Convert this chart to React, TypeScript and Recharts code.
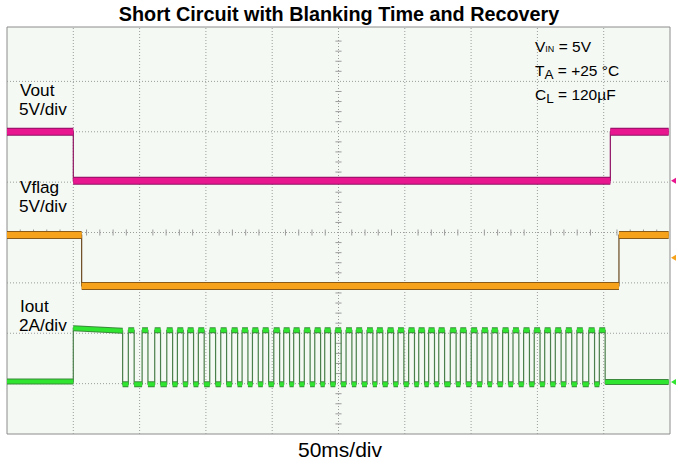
import React from 'react';
import { LineChart, Line, XAxis, YAxis, ReferenceLine, ReferenceArea, ReferenceDot } from 'recharts';

// time axis in ms (50 ms/div), vertical axis in screen divisions
const X_TICKS = [0, 50, 100, 150, 200, 250, 300, 350, 400, 450, 500];
const Y_TICKS = [0, 1, 2, 3, 4, 5, 6, 7, 8];

type Seg = [number, number, number, number]; // [t start, t end, level start, level end]

// Vout (magenta) in divisions
const voutSegs: Seg[] = [
  [0, 50, 6.0, 6.0],
  [50, 455, 5.03, 5.03],
  [455, 499, 6.0, 6.0],
];

// Vflag (orange)
const vflagSegs: Seg[] = [
  [0, 56.3, 3.95, 3.95],
  [56.3, 461.5, 2.94, 2.94],
  [461.5, 499, 3.95, 3.95],
];

// Iout (green): before short, blanking plateau, then hiccup pulses
const ioutLeadSegs: Seg[] = [
  [0, 50, 1.04, 1.04],
  [50, 87.2, 2.1, 2.05],
];
const ioutPulseCenters = [
  93.7, 104.1, 113.6, 122.7, 130.7, 138.5, 146.5, 155.1, 163.4, 171.7,
  179.5, 187.3, 195.1, 203.4, 210.9, 218.4, 226.4, 234.3, 241.8, 249.8,
  257.9, 265.6, 273.7, 281.2, 289.3, 297.1, 305.1, 312.7, 320.2, 327.8,
  336.5, 344.1, 352.3, 360.4, 367.9, 376.0, 383.8, 391.8, 399.8, 407.7,
  415.7, 423.7, 432.0, 440.9, 448.9,
];
const IOUT_HIGH = 2.06;
const IOUT_LOW = 0.99;
const IOUT_REST = 1.03;
const PULSE_HALF = 2.2;

const ioutSegs: Seg[] = (() => {
  const segs: Seg[] = [...ioutLeadSegs];
  let prev = 87.2;
  ioutPulseCenters.forEach((c) => {
    segs.push([prev, c - PULSE_HALF, IOUT_LOW, IOUT_LOW]);
    segs.push([c - PULSE_HALF, c + PULSE_HALF, IOUT_HIGH, IOUT_HIGH]);
    prev = c + PULSE_HALF;
  });
  segs.push([prev, 499, IOUT_REST, IOUT_REST]);
  return segs;
})();

const toTrace = (segs: Seg[]) =>
  segs.flatMap(([t0, t1, a, b]) => [{ t: t0, v: a }, { t: t1, v: b }]);
const toPlateaus = (segs: Seg[]) =>
  segs.flatMap(([t0, t1, a, b]) => [{ t: t0, v: a }, { t: t1, v: b }, { t: t1, v: null }]);

const traces = [
  { name: 'Vout', segs: voutSegs, color: '#e8168f', dark: '#8e1060', wave: '#8e1060', band: 8 },
  { name: 'Vflag', segs: vflagSegs, color: '#f7a21b', dark: '#8a5a18', wave: '#6a4a20', band: 8 },
  { name: 'Iout', segs: ioutSegs, color: '#2fe52f', dark: '#3b8a3b', wave: '#4a7e4a', band: 6 },
];

const markers = [
  { v: 5.03, color: '#e8168f' },
  { v: 3.5, color: '#f7a21b' },
  { v: 1.03, color: '#2fe52f' },
];

const minorX = Array.from({ length: 49 }, (_, i) => (i + 1) * 10).filter((t) => t % 50 !== 0);
const minorY = Array.from({ length: 39 }, (_, i) => (i + 1) * 0.2).filter((y) => Math.abs(y - Math.round(y)) > 0.01);

const Marker = (props: any) => {
  const { cx, cy, fill } = props;
  return <polygon points={`${cx + 1},${cy} ${cx + 6},${cy - 3} ${cx + 6},${cy + 3}`} fill={fill} />;
};

const font = '"Liberation Sans", Arial, Helvetica, sans-serif';

export default function App() {
  return (
    <div style={{ position: 'absolute', left: 0, top: 0, width: 678, height: 465, background: '#ffffff', fontFamily: font }}>
      <LineChart width={678} height={465} margin={{ top: 27, right: 8, bottom: 31, left: 7 }}>
        <XAxis type="number" dataKey="t" domain={[0, 500]} ticks={X_TICKS} hide />
        <YAxis type="number" dataKey="v" domain={[0, 8.08]} ticks={Y_TICKS} hide />
        <ReferenceArea x1={0} x2={500} y1={0} y2={8.08} fill="#f4f9f4" fillOpacity={1} stroke="#8c8c8c" strokeWidth={1} />
        {X_TICKS.slice(1, -1).map((t) => (
          <ReferenceLine key={'gx' + t} x={t} stroke="#9c9c9c" strokeDasharray="1 2" />
        ))}
        {Y_TICKS.slice(1, -1).map((y) => (
          <ReferenceLine key={'gy' + y} y={y} stroke="#9c9c9c" strokeDasharray="1 2" />
        ))}
        {minorX.map((t) => (
          <ReferenceLine key={'mx' + t} segment={[{ x: t, y: 3.94 }, { x: t, y: 4.06 }]} stroke="#9c9c9c" />
        ))}
        {minorY.map((y) => (
          <ReferenceLine key={'my' + y} segment={[{ x: 247.7, y }, { x: 252.3, y }]} stroke="#9c9c9c" />
        ))}
        {traces.map((tr) => (
          <Line key={tr.name + 'wave'} data={toTrace(tr.segs)} dataKey="v" stroke={tr.wave} strokeWidth={1.2}
            dot={false} activeDot={false} isAnimationActive={false} />
        ))}
        {traces.map((tr) => (
          <Line key={tr.name + 'edge'} data={toPlateaus(tr.segs)} dataKey="v" stroke={tr.dark} strokeWidth={tr.band}
            dot={false} activeDot={false} isAnimationActive={false} strokeLinecap="butt" strokeLinejoin="miter" />
        ))}
        {traces.map((tr) => (
          <Line key={tr.name + 'band'} data={toPlateaus(tr.segs)} dataKey="v" stroke={tr.color} strokeWidth={tr.band - 2}
            dot={false} activeDot={false} isAnimationActive={false} strokeLinecap="butt" strokeLinejoin="miter" />
        ))}
        {markers.map((m) => (
          <ReferenceDot key={'mk' + m.v} x={500} y={m.v} r={3} fill={m.color} stroke="none" shape={<Marker />} />
        ))}
      </LineChart>
      <svg width={678} height={465} style={{ position: 'absolute', left: 0, top: 0, pointerEvents: 'none' }} fontFamily={font}>
        <text x={339} y={21} textAnchor="middle" fontSize={19.8} fontWeight="bold" fill="#000">
          Short Circuit with Blanking Time and Recovery
        </text>
        <text x={340} y={457} textAnchor="middle" fontSize={21} fill="#000">50ms/div</text>
        <g fontSize={17.2} fill="#000">
          <text x={20} y={96}>Vout</text>
          <text x={19} y={115}>5V/div</text>
          <text x={20} y={193}>Vflag</text>
          <text x={19} y={212}>5V/div</text>
          <text x={20} y={312}>Iout</text>
          <text x={19} y={331}>2A/div</text>
        </g>
        <g fontSize={15.5} fill="#000">
          <text x={535} y={52}>V<tspan fontSize={9}>IN</tspan> = 5V</text>
          <text x={535} y={76}>T<tspan fontSize={13.5} dy={3}>A</tspan><tspan dy={-3}> = +25 °C</tspan></text>
          <text x={535} y={100}>C<tspan fontSize={13.5} dy={3}>L</tspan><tspan dy={-3}> = 120µF</tspan></text>
        </g>
      </svg>
    </div>
  );
}
